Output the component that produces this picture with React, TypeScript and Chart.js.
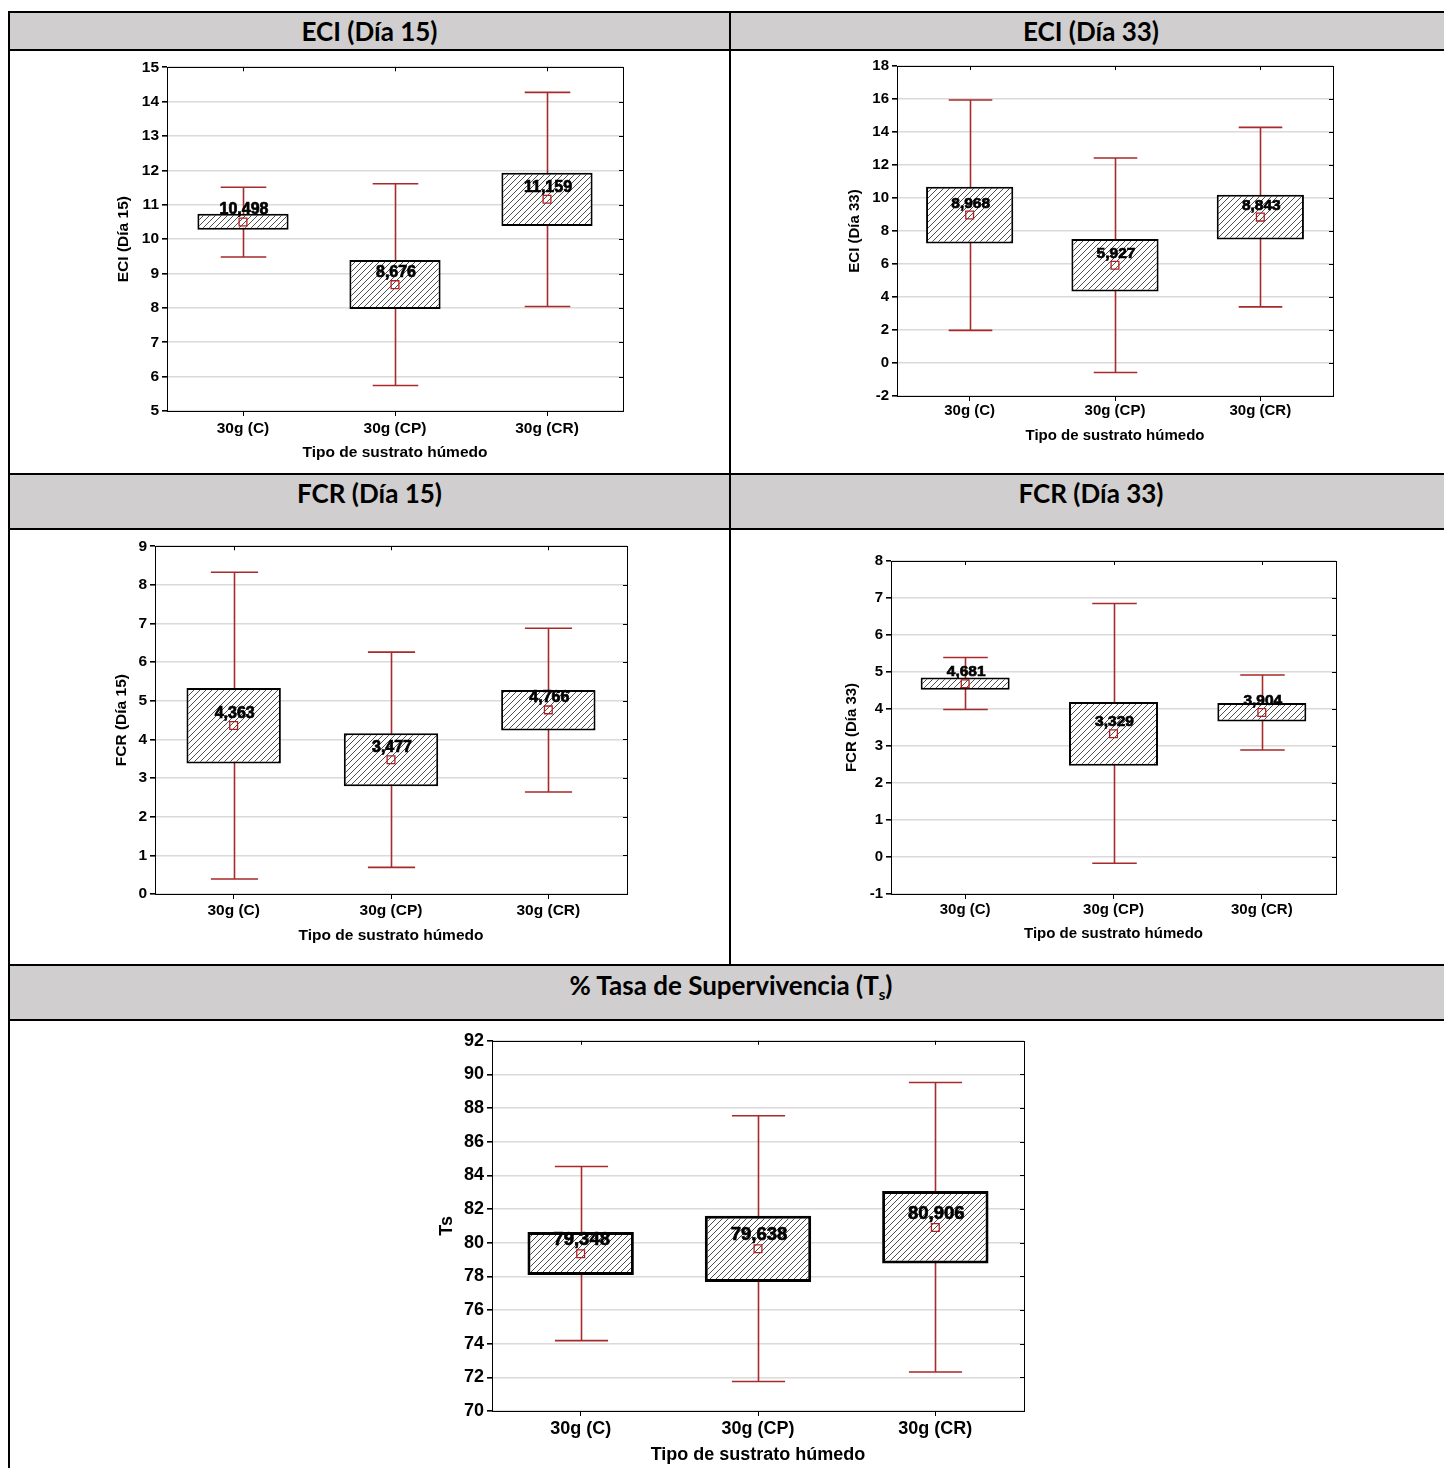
import React, { useEffect, useRef } from "react";
import { Chart, registerables } from "chart.js";

Chart.register(...registerables);

// ---------- data ----------
const categories = ["30g (C)", "30g (CP)", "30g (CR)"];
const xAxisTitle = "Tipo de sustrato húmedo";

const eci15Means = [10.498, 8.676, 11.159];
const eci15BoxLow = [10.27, 7.97, 10.38];
const eci15BoxHigh = [10.74, 9.39, 11.93];
const eci15WhiskerLow = [9.48, 5.74, 8.04];
const eci15WhiskerHigh = [11.51, 11.61, 14.27];

const eci33Means = [8.968, 5.927, 8.843];
const eci33BoxLow = [7.24, 4.33, 7.48];
const eci33BoxHigh = [10.68, 7.52, 10.19];
const eci33WhiskerLow = [1.98, -0.58, 3.4];
const eci33WhiskerHigh = [15.94, 12.42, 14.28];

const fcr15Means = [4.363, 3.477, 4.766];
const fcr15BoxLow = [3.38, 2.79, 4.23];
const fcr15BoxHigh = [5.33, 4.16, 5.28];
const fcr15WhiskerLow = [0.39, 0.69, 2.64];
const fcr15WhiskerHigh = [8.33, 6.26, 6.88];

const fcr33Means = [4.681, 3.329, 3.904];
const fcr33BoxLow = [4.52, 2.465, 3.66];
const fcr33BoxHigh = [4.85, 4.19, 4.165];
const fcr33WhiskerLow = [3.985, -0.17, 2.89];
const fcr33WhiskerHigh = [5.39, 6.85, 4.92];

const tsMeans = [79.348, 79.638, 80.906];
const tsBoxLow = [78.08, 77.67, 78.77];
const tsBoxHigh = [80.64, 81.6, 83.07];
const tsWhiskerLow = [74.18, 71.75, 72.32];
const tsWhiskerHigh = [84.53, 87.55, 89.52];

// ---------- layout / style ----------
const FONT = "'Liberation Sans', Arial, sans-serif";
const WHISKER = "#a82a2a";

type PanelDef = {
  key: string;
  means: number[];
  boxLow: number[];
  boxHigh: number[];
  whiskerLow: number[];
  whiskerHigh: number[];
  yTitle: string;
  yMin: number;
  yMax: number;
  yStep: number;
  L: number;
  T: number;
  R: number;
  B: number;
  yTitleX: number;
  xTickY: number;
  xTitleY: number;
  fs: number;
  ms: number;
  bw: number;
};

const panels: PanelDef[] = [
  {
    key: "eci15", means: eci15Means, boxLow: eci15BoxLow, boxHigh: eci15BoxHigh,
    whiskerLow: eci15WhiskerLow, whiskerHigh: eci15WhiskerHigh,
    yTitle: "ECI (Día 15)", yMin: 5, yMax: 15, yStep: 1,
    L: 167, T: 67, R: 623, B: 411, yTitleX: 123, xTickY: 429, xTitleY: 453, fs: 15.5, ms: 16, bw: 2,
  },
  {
    key: "eci33", means: eci33Means, boxLow: eci33BoxLow, boxHigh: eci33BoxHigh,
    whiskerLow: eci33WhiskerLow, whiskerHigh: eci33WhiskerHigh,
    yTitle: "ECI (Día 33)", yMin: -2, yMax: 18, yStep: 2,
    L: 897, T: 66, R: 1333, B: 396, yTitleX: 855, xTickY: 411, xTitleY: 436, fs: 15, ms: 15.5, bw: 2,
  },
  {
    key: "fcr15", means: fcr15Means, boxLow: fcr15BoxLow, boxHigh: fcr15BoxHigh,
    whiskerLow: fcr15WhiskerLow, whiskerHigh: fcr15WhiskerHigh,
    yTitle: "FCR (Día 15)", yMin: 0, yMax: 9, yStep: 1,
    L: 155, T: 546, R: 627, B: 894, yTitleX: 121, xTickY: 911, xTitleY: 936, fs: 15.5, ms: 16, bw: 2,
  },
  {
    key: "fcr33", means: fcr33Means, boxLow: fcr33BoxLow, boxHigh: fcr33BoxHigh,
    whiskerLow: fcr33WhiskerLow, whiskerHigh: fcr33WhiskerHigh,
    yTitle: "FCR (Día 33)", yMin: -1, yMax: 8, yStep: 1,
    L: 891, T: 561, R: 1336, B: 894, yTitleX: 852, xTickY: 910, xTitleY: 934, fs: 15, ms: 15.5, bw: 2,
  },
  {
    key: "ts", means: tsMeans, boxLow: tsBoxLow, boxHigh: tsBoxHigh,
    whiskerLow: tsWhiskerLow, whiskerHigh: tsWhiskerHigh,
    yTitle: "Ts", yMin: 70, yMax: 92, yStep: 2,
    L: 492, T: 1039, R: 1024, B: 1411, yTitleX: 447, xTickY: 1429, xTitleY: 1455, fs: 18, ms: 18.5, bw: 3,
  },
];

function makeHatch(): CanvasPattern | string {
  const c = document.createElement("canvas");
  c.width = 6;
  c.height = 6;
  const g = c.getContext("2d");
  if (!g) return "#ddd";
  g.fillStyle = "#fff";
  g.fillRect(0, 0, 6, 6);
  g.strokeStyle = "#3a3a3a";
  g.lineWidth = 0.9;
  g.beginPath();
  g.moveTo(0, 6);
  g.lineTo(6, 0);
  g.moveTo(-1, 1);
  g.lineTo(1, -1);
  g.moveTo(5, 7);
  g.lineTo(7, 5);
  g.stroke();
  return g.createPattern(c, "repeat") || "#ddd";
}

function geom(p: PanelDef) {
  const lh = p.fs * 1.2;
  const left = Math.round(p.yTitleX - lh / 2 - 2);
  const top = p.T - 12;
  const bottom = Math.round(p.xTitleY + lh / 2 + 2);
  return {
    left,
    top,
    width: p.R + 12 - left,
    height: bottom - top,
    yW: p.L - left,
    xH: bottom - p.B,
    xTickPad: Math.max(0, p.xTickY - p.B - 5 - lh / 2),
  };
}

function BoxPanel({ p }: { p: PanelDef }) {
  const ref = useRef<HTMLCanvasElement | null>(null);
  const g = geom(p);

  useEffect(() => {
    if (!ref.current) return;
    const hatch = makeHatch();
    const font = { family: FONT, size: p.fs, weight: "bold" as const };

    const plugin = {
      id: "boxplot-" + p.key,
      beforeDatasetsDraw(chart: any) {
        const ctx = chart.ctx;
        const xs = chart.scales.x;
        const ys = chart.scales.y;
        const catW = xs.width / categories.length;
        const cap = catW * 0.15;
        ctx.save();
        ctx.strokeStyle = WHISKER;
        ctx.lineWidth = 1.6;
        categories.forEach((_c, i) => {
          const cx = Math.round(xs.getPixelForValue(i)) + 0.5;
          const yl = ys.getPixelForValue(p.whiskerLow[i]);
          const yh = ys.getPixelForValue(p.whiskerHigh[i]);
          ctx.beginPath();
          ctx.moveTo(cx, yl);
          ctx.lineTo(cx, yh);
          ctx.moveTo(cx - cap, yl);
          ctx.lineTo(cx + cap, yl);
          ctx.moveTo(cx - cap, yh);
          ctx.lineTo(cx + cap, yh);
          ctx.stroke();
        });
        ctx.restore();
      },
      afterDatasetsDraw(chart: any) {
        const ctx = chart.ctx;
        const xs = chart.scales.x;
        const ys = chart.scales.y;
        ctx.save();
        ctx.fillStyle = "#000";
        ctx.strokeStyle = "#000";
        ctx.lineWidth = 0.7;
        ctx.font = `bold ${p.ms}px ${FONT}`;
        ctx.textAlign = "center";
        ctx.textBaseline = "middle";
        p.means.forEach((m, i) => {
          const cx = xs.getPixelForValue(i);
          const cy = ys.getPixelForValue(m);
          const s = m.toFixed(3).replace(".", ",");
          ctx.fillText(s, cx + 1, cy - p.ms * 0.75);
          ctx.strokeText(s, cx + 1, cy - p.ms * 0.75);
        });
        ctx.restore();
      },
      afterDraw(chart: any) {
        const ctx = chart.ctx;
        const a = chart.chartArea;
        const xs = chart.scales.x;
        const ys = chart.scales.y;
        ctx.save();
        ctx.strokeStyle = "#000";
        ctx.lineWidth = 1;
        ctx.strokeRect(Math.round(a.left) + 0.5, Math.round(a.top) + 0.5, Math.round(a.right - a.left), Math.round(a.bottom - a.top));
        ctx.beginPath();
        categories.forEach((_c, i) => {
          const cx = Math.round(xs.getPixelForValue(i)) + 0.5;
          ctx.moveTo(cx, a.top);
          ctx.lineTo(cx, a.top + 4);
        });
        ys.ticks.forEach((t: any) => {
          const yy = Math.round(ys.getPixelForValue(t.value)) + 0.5;
          ctx.moveTo(a.right - 4, yy);
          ctx.lineTo(a.right, yy);
        });
        ctx.stroke();
        ctx.restore();
      },
    };

    const chart = new Chart(ref.current, {
      type: "bar",
      data: {
        labels: categories,
        datasets: [
          {
            type: "line",
            data: p.means,
            showLine: false,
            pointStyle: "rect",
            pointRadius: 5.5,
            pointBorderColor: "#b01e1e",
            pointBackgroundColor: "rgba(0,0,0,0)",
            pointBorderWidth: 1.3,
            order: 1,
          } as any,
          {
            type: "bar",
            data: p.boxLow.map((lo, i) => [lo, p.boxHigh[i]]),
            backgroundColor: hatch as any,
            borderColor: "#000",
            borderWidth: p.bw,
            borderSkipped: false,
            barPercentage: 0.6,
            categoryPercentage: 1,
            order: 2,
          } as any,
        ],
      },
      options: {
        animation: false,
        responsive: false,
        devicePixelRatio: 1,
        events: [],
        layout: { padding: { top: 12, right: 12, left: 0, bottom: 0 } },
        plugins: { legend: { display: false }, tooltip: { enabled: false } },
        scales: {
          x: {
            offset: true,
            grid: {
              display: true,
              offset: false,
              drawOnChartArea: false,
              drawTicks: true,
              tickLength: 5,
              tickColor: "#000",
            },
            border: { display: true, color: "#000", width: 1 },
            ticks: { color: "#000", font, padding: g.xTickPad, maxRotation: 0, autoSkip: false },
            title: { display: true, text: xAxisTitle, color: "#000", font, padding: { top: 0, bottom: 2 } },
            afterFit: (s: any) => {
              s.height = g.xH;
            },
          },
          y: {
            min: p.yMin,
            max: p.yMax,
            ticks: { stepSize: p.yStep, color: "#000", font, padding: 3 },
            grid: { color: "#dadada", lineWidth: 1.6, tickLength: 5, tickColor: "#000" },
            border: { display: true, color: "#000", width: 1 },
            title: { display: true, text: p.yTitle, color: "#000", font, padding: { top: 2, bottom: 0 } },
            afterFit: (s: any) => {
              s.width = g.yW;
            },
          },
        },
      } as any,
      plugins: [plugin],
    });
    return () => chart.destroy();
  }, [p]);

  return (
    <canvas
      ref={ref}
      width={g.width}
      height={g.height}
      style={{ position: "absolute", left: g.left, top: g.top, width: g.width, height: g.height }}
    />
  );
}

const HEADER_BG = "#d0cece";
const headerFont: React.CSSProperties = {
  fontFamily: "Lato, 'Open Sans', sans-serif",
  fontWeight: 700,
  fontSize: 26,
  color: "#000",
  textAlign: "center",
  position: "absolute",
  whiteSpace: "nowrap",
};

function Line({ x, y, w, h }: { x: number; y: number; w: number; h: number }) {
  return <div style={{ position: "absolute", left: x, top: y, width: w, height: h, background: "#000" }} />;
}

function Bg({ y, h }: { y: number; h: number }) {
  return <div style={{ position: "absolute", left: 10, top: y, width: 1440, height: h, background: HEADER_BG }} />;
}

export default function App() {
  return (
    <div
      style={{
        position: "fixed",
        left: 0,
        top: 0,
        width: 1444,
        height: 1468,
        overflow: "hidden",
        background: "#fff",
      }}
    >
      {/* header backgrounds */}
      <Bg y={13} h={36} />
      <Bg y={475} h={53} />
      <Bg y={966} h={53} />

      {/* horizontal borders */}
      <Line x={8} y={11} w={1440} h={2} />
      <Line x={8} y={49} w={1440} h={2} />
      <Line x={8} y={473} w={1440} h={2} />
      <Line x={8} y={528} w={1440} h={2} />
      <Line x={8} y={964} w={1440} h={2} />
      <Line x={8} y={1019} w={1440} h={2} />
      {/* vertical borders */}
      <Line x={8} y={11} w={2} h={1460} />
      <Line x={729} y={11} w={2} h={955} />

      {/* header texts */}
      <div style={{ ...headerFont, left: 10, width: 719, top: 13, height: 36, lineHeight: "36px" }}>ECI (Día 15)</div>
      <div style={{ ...headerFont, left: 731, width: 720, top: 13, height: 36, lineHeight: "36px" }}>ECI (Día 33)</div>
      <div style={{ ...headerFont, left: 10, width: 719, top: 475, height: 36, lineHeight: "36px" }}>FCR (Día 15)</div>
      <div style={{ ...headerFont, left: 731, width: 720, top: 475, height: 36, lineHeight: "36px" }}>FCR (Día 33)</div>
      <div style={{ ...headerFont, left: 10, width: 1442, top: 966, height: 38, lineHeight: "38px" }}>
        % Tasa de Supervivencia (T
        <span style={{ fontSize: 15, position: "relative", top: 5 }}>s</span>)
      </div>

      {panels.map((p) => (
        <BoxPanel key={p.key} p={p} />
      ))}
    </div>
  );
}
